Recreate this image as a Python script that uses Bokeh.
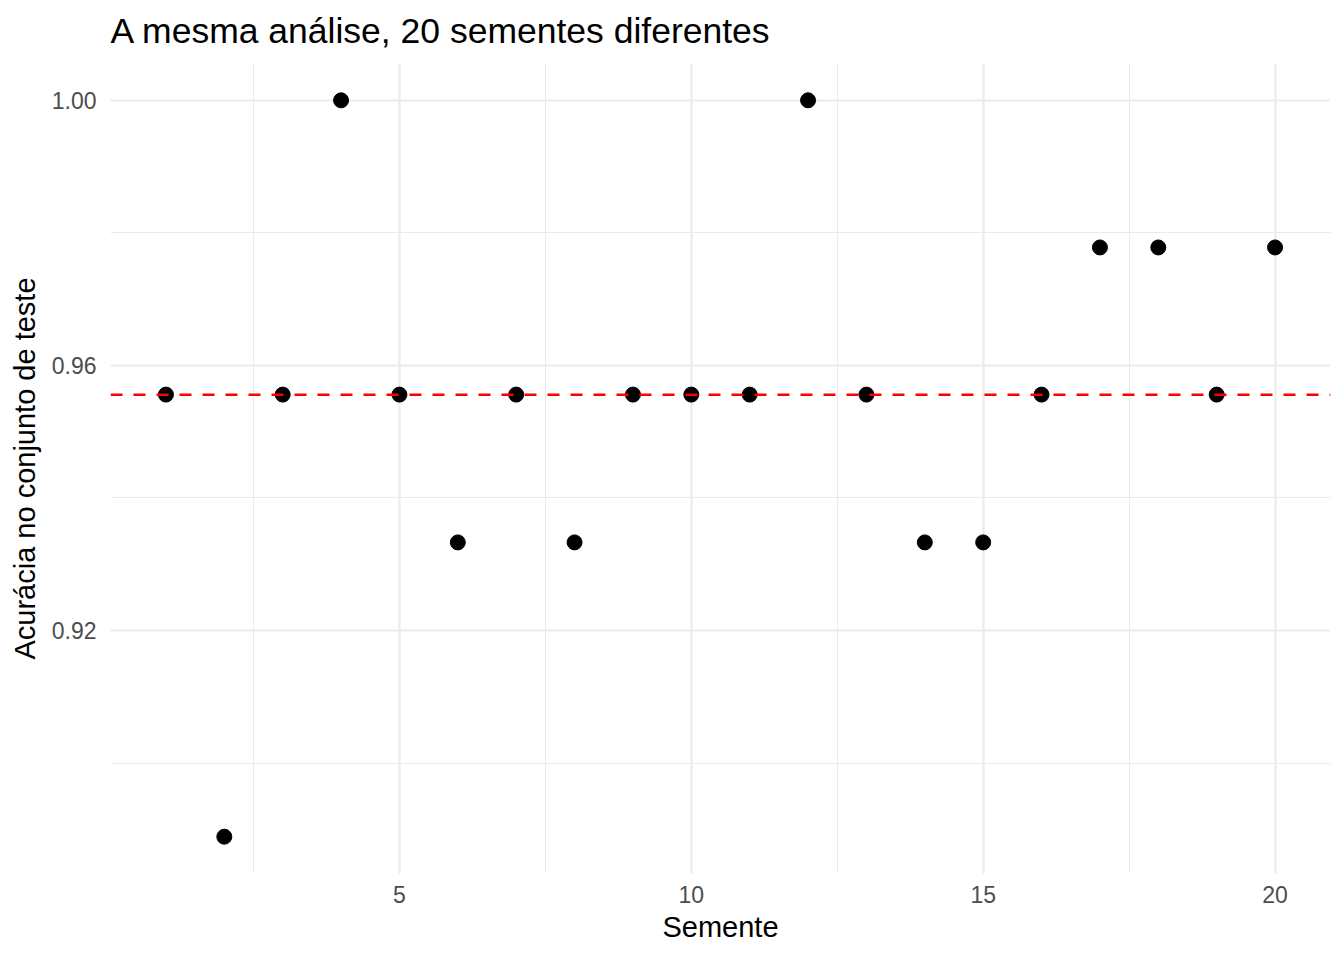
from bokeh.plotting import figure
from bokeh.models import Range1d, FixedTicker, PrintfTickFormatter, Span
from bokeh.embed import file_html
from bokeh.resources import INLINE

# Data
semente = list(range(1, 21))
acuracia = [0.9556, 0.8889, 0.9556, 1.0000, 0.9556, 0.9333, 0.9556, 0.9333, 0.9556, 0.9556,
            0.9556, 1.0000, 0.9556, 0.9333, 0.9333, 0.9556, 0.9778, 0.9778, 0.9556, 0.9778]
x_ticks = [5, 10, 15, 20]
x_minor = [2.5, 7.5, 12.5, 17.5]
y_ticks = [0.92, 0.96, 1.00]
y_minor = [0.90, 0.94, 0.98]
media = sum(acuracia) / len(acuracia)

FONT = "Liberation Sans"

xmin, xmax = min(semente), max(semente)
ymin, ymax = min(acuracia), max(acuracia)
xpad = (xmax - xmin) * 0.05
ypad = (ymax - ymin) * 0.05

p = figure(width=1344, height=960, output_backend="svg", toolbar_location=None,
           x_range=Range1d(xmin - xpad, xmax + xpad),
           y_range=Range1d(ymin - ypad, ymax + ypad),
           title="A mesma análise, 20 sementes diferentes",
           min_border_left=110, min_border_right=14, min_border_top=63, min_border_bottom=87)

p.outline_line_color = None
p.background_fill_color = "white"
p.border_fill_color = "white"

p.title.text_font = FONT
p.title.text_font_size = "35.5px"
p.title.text_font_style = "normal"
p.title.text_color = "black"
p.title.vertical_align = "top"
p.title.offset = 0
p.title.standoff = 21

# axes
p.xaxis.ticker = FixedTicker(ticks=x_ticks, minor_ticks=x_minor)
p.yaxis.ticker = FixedTicker(ticks=y_ticks, minor_ticks=y_minor)
p.xaxis.formatter = PrintfTickFormatter(format="%d")
p.yaxis.formatter = PrintfTickFormatter(format="%.2f")
p.xaxis.axis_label = "Semente"
p.yaxis.axis_label = "Acurácia no conjunto de teste"
for ax in (p.xaxis, p.yaxis):
    ax.axis_line_color = None
    ax.major_tick_line_color = None
    ax.minor_tick_line_color = None
    ax.major_tick_out = 0
    ax.major_tick_in = 0
    ax.minor_tick_out = 0
    ax.minor_tick_in = 0
    ax.major_label_text_font = FONT
    ax.major_label_text_font_size = "23px"
    ax.major_label_text_color = "#4D4D4D"
    ax.axis_label_text_font = FONT
    ax.axis_label_text_font_size = "29px"
    ax.axis_label_text_font_style = "normal"
    ax.axis_label_text_color = "black"
p.xaxis.major_label_standoff = 12
p.xaxis.axis_label_standoff = 5
p.yaxis.major_label_standoff = 14
p.yaxis.axis_label_standoff = 8

# grids
for g in (p.xgrid, p.ygrid):
    g.grid_line_color = "#EBEBEB"
    g.grid_line_width = 2.2
    g.minor_grid_line_color = "#EBEBEB"
    g.minor_grid_line_width = 1.1

p.scatter(semente, acuracia, size=15, color="black", line_color="black")

p.add_layout(Span(location=media, dimension="width", line_color="#FF0000",
                  line_width=2.6, line_dash="12 11"))

open("out.html", "w").write(file_html(p, INLINE))
